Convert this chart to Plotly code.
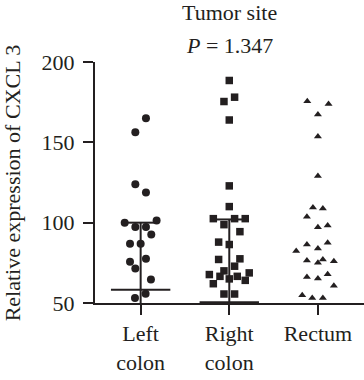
import plotly.graph_objects as go

# ---- data ----
categories = ["Left<br>colon", "Right<br>colon", "Rectum"]
y_ticks = [50, 100, 150, 200]

left_values = [165, 156.3, 123.9, 118.75, 100, 101.4, 97.3, 97.3, 92.7, 86.9, 86.9,
               75.6, 77.5, 71.4, 64.6, 55.8, 53.1]
left_offsets = [0.06, -0.06, -0.06, 0.06, -0.18, 0.18, -0.06, 0.06, 0.12, -0.12, 0.0,
                -0.12, 0.06, -0.06, 0.116, 0.056, -0.064]

right_values = [188.5, 178.1, 175.4, 163.9, 122.9, 110, 102.5, 102.5, 102.5, 98.75, 94.4,
                87.9, 86.4, 77.1, 77.5, 72.9, 70.0, 67.7, 68.75, 66.6, 65.0, 66.6, 64.1,
                62.0, 55.6, 55.6]
right_offsets = [0.0, 0.06, -0.06, 0.0, 0.0, 0.0, -0.18, 0.06, 0.18, -0.06, 0.12,
                 -0.12, 0.0, -0.12, 0.12, 0.06, -0.06, -0.225, 0.225, -0.105, 0.0, 0.09, 0.18,
                 -0.18, -0.06, 0.06]

rectum_values = [175.6, 173.9, 167.3, 153.7, 129.1, 109.4, 108.75, 103.75, 97.1, 98.3,
                 87.5, 86.4, 82.3, 83.9, 76.4, 75.0, 77.0, 76.0, 66.25, 65.2, 67.9, 60.8,
                 54.75, 53.1, 53.1]
rectum_offsets = [-0.12, 0.12, 0.0, 0.0, 0.0, -0.056, 0.056, -0.124, 0.0, 0.11,
                  0.11, -0.124, -0.245, 0.0, -0.124, 0.0, 0.056, 0.18, -0.124, 0.0, 0.11, 0.18,
                  -0.177, -0.064, 0.056]

# summary lines (center, lower, upper)
left_summary = [58.3, 48.5, 100.0]
right_summary = [50.5, 49.3, 102.0]

title_text = "Tumor site"
p_text = "<i>P</i> = 1.347"
y_title = "Relative expression of CXCL 3"

# ---- styling ----
INK = "#231f20"
FONT = "Liberation Serif, Times New Roman, Times, serif"
FS = 22
CAP_HW = 0.17
MID_HW = 0.335

fig = go.Figure()


def add_summary(fig, pos, summary):
    center, lower, upper = summary
    xs = [pos, pos, None, pos - CAP_HW, pos + CAP_HW, None, pos - CAP_HW, pos + CAP_HW,
          None, pos - MID_HW, pos + MID_HW]
    ys = [lower, upper, None, upper, upper, None, lower, lower, None, center, center]
    fig.add_trace(go.Scatter(x=xs, y=ys, mode="lines", line=dict(color=INK, width=2),
                             cliponaxis=False, hoverinfo="skip", showlegend=False))


add_summary(fig, 0, left_summary)
add_summary(fig, 1, right_summary)

groups = [
    (0, left_values, left_offsets, "circle", 8),
    (1, right_values, right_offsets, "square", 7.5),
    (2, rectum_values, rectum_offsets, "triangle-up", 7),
]
for pos, vals, offs, sym, size in groups:
    fig.add_trace(go.Scatter(
        x=[pos + o for o in offs], y=vals, mode="markers",
        marker=dict(symbol=sym, size=size, color=INK, line=dict(width=0)),
        cliponaxis=False, showlegend=False))

fig.update_layout(
    template="none",
    width=364, height=380,
    margin=dict(l=95, r=0, t=62, b=77, pad=0),
    plot_bgcolor="white", paper_bgcolor="white",
    font=dict(family=FONT, size=FS, color=INK),
    showlegend=False,
    xaxis=dict(range=[-0.515, 2.52], tickmode="array", tickvals=[0, 1, 2],
               ticktext=categories, ticks="outside", ticklen=10, tickwidth=2,
               tickcolor=INK, showline=True, linewidth=2, linecolor=INK,
               showgrid=False, zeroline=False, automargin=False,
               tickfont=dict(size=FS, family=FONT, color=INK)),
    yaxis=dict(range=[50, 200], tickmode="array", tickvals=y_ticks,
               ticks="outside", ticklen=10, tickwidth=2, tickcolor=INK,
               showline=True, linewidth=2, linecolor=INK, showgrid=False,
               zeroline=False, automargin=False, ticklabelstandoff=4,
               tickfont=dict(size=FS, family=FONT, color=INK)),
    annotations=[
        dict(text=title_text, xref="paper", yref="paper", x=0.5, y=1.2047,
             xanchor="center", yanchor="middle", showarrow=False,
             font=dict(size=FS, family=FONT, color=INK)),
        dict(text=p_text, xref="paper", yref="paper", x=0.5, y=1.069,
             xanchor="center", yanchor="middle", showarrow=False,
             font=dict(size=FS, family=FONT, color=INK)),
        dict(text=y_title, xref="paper", yref="paper", x=-0.3055, y=0.5,
             xanchor="center", yanchor="middle", textangle=-90, showarrow=False,
             font=dict(size=FS, family=FONT, color=INK)),
    ],
)

fig.write_html(
    "out.html",
    config={"displayModeBar": False},
    post_script="document.body.style.margin='0';document.body.style.padding='0';",
)
